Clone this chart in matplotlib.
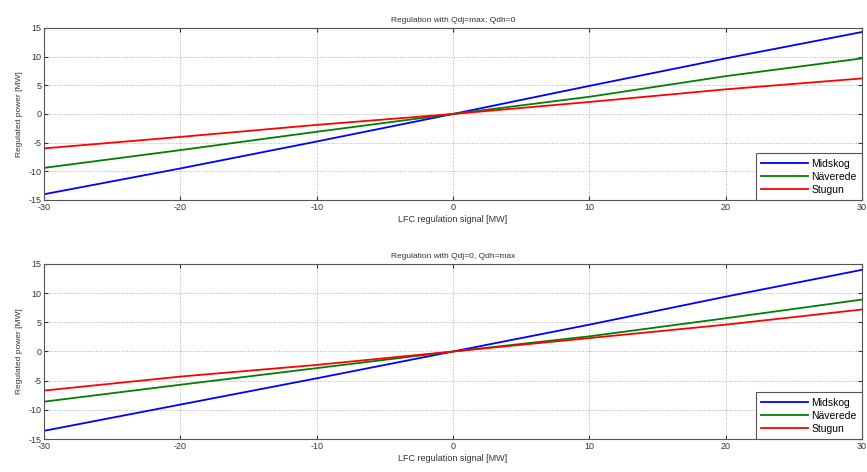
import matplotlib.pyplot as plt
import numpy as np

# LFC regulation signal [MW]
signal = [-30, -20, -10, 0, 10, 20, 30]

# Regulated power [MW], case Qdj=max, Qdh=0
midskog_a = [-14.0, -9.5, -4.8, 0.0, 4.9, 9.7, 14.3]
naverede_a = [-9.4, -6.3, -3.1, 0.0, 3.0, 6.6, 9.7]
stugun_a = [-6.0, -4.0, -1.9, 0.0, 2.1, 4.3, 6.2]

# Regulated power [MW], case Qdj=0, Qdh=max
midskog_b = [-13.6, -9.1, -4.6, 0.0, 4.6, 9.4, 14.0]
naverede_b = [-8.6, -5.7, -2.85, 0.0, 2.6, 5.7, 8.9]
stugun_b = [-6.7, -4.3, -2.3, 0.0, 2.3, 4.6, 7.2]

titles = ["Regulation with Qdj=max, Qdh=0", "Regulation with Qdj=0, Qdh=max"]
names = ["Midskog", "Näverede", "Stugun"]
colors = ["#0000ff", "#008000", "#ff0000"]
xticks = [-30, -20, -10, 0, 10, 20, 30]
yticks = [-15, -10, -5, 0, 5, 10, 15]

plt.rcParams["font.family"] = ["Liberation Sans", "DejaVu Sans"]
plt.rcParams["axes.unicode_minus"] = False

fig = plt.figure(figsize=(8.67, 4.72), dpi=100)
ax_top = fig.add_axes([0.0507, 0.5763, 0.9436, 0.3644])
ax_bot = fig.add_axes([0.0507, 0.0699, 0.9436, 0.3708])

cases = [
    (ax_top, [midskog_a, naverede_a, stugun_a]),
    (ax_bot, [midskog_b, naverede_b, stugun_b]),
]

for (ax, series), title in zip(cases, titles):
    for vals, name, col in zip(series, names, colors):
        ax.plot(signal, vals, color=col, lw=1.3, label=name)
    ax.set_xlim(-30, 30)
    ax.set_ylim(-15, 15)
    ax.set_xticks(xticks)
    ax.set_yticks(yticks)
    ax.grid(True, linestyle=":", color="#b0b0b0", lw=0.7)
    ax.tick_params(direction="in", labelsize=6.5, length=3, top=True, right=True,
                   pad=2, colors="#333333")
    for sp in ax.spines.values():
        sp.set_color("#555555")
        sp.set_linewidth(0.8)
    ax.set_title(title, fontsize=6, pad=4, color="#333333")
    ax.set_xlabel("LFC regulation signal [MW]", fontsize=6.5, labelpad=2, color="#333333")
    ax.set_ylabel("Regulated power [MW]", fontsize=6, labelpad=4, color="#333333")
    leg = ax.legend(loc="lower right", fontsize=7.5, fancybox=False, borderaxespad=0,
                    handlelength=4.5, handletextpad=0.3, labelspacing=0.3,
                    borderpad=0.5, framealpha=1)
    leg.get_frame().set_edgecolor("#555555")
    leg.get_frame().set_linewidth(0.8)

fig.savefig("out.png", dpi=100)
